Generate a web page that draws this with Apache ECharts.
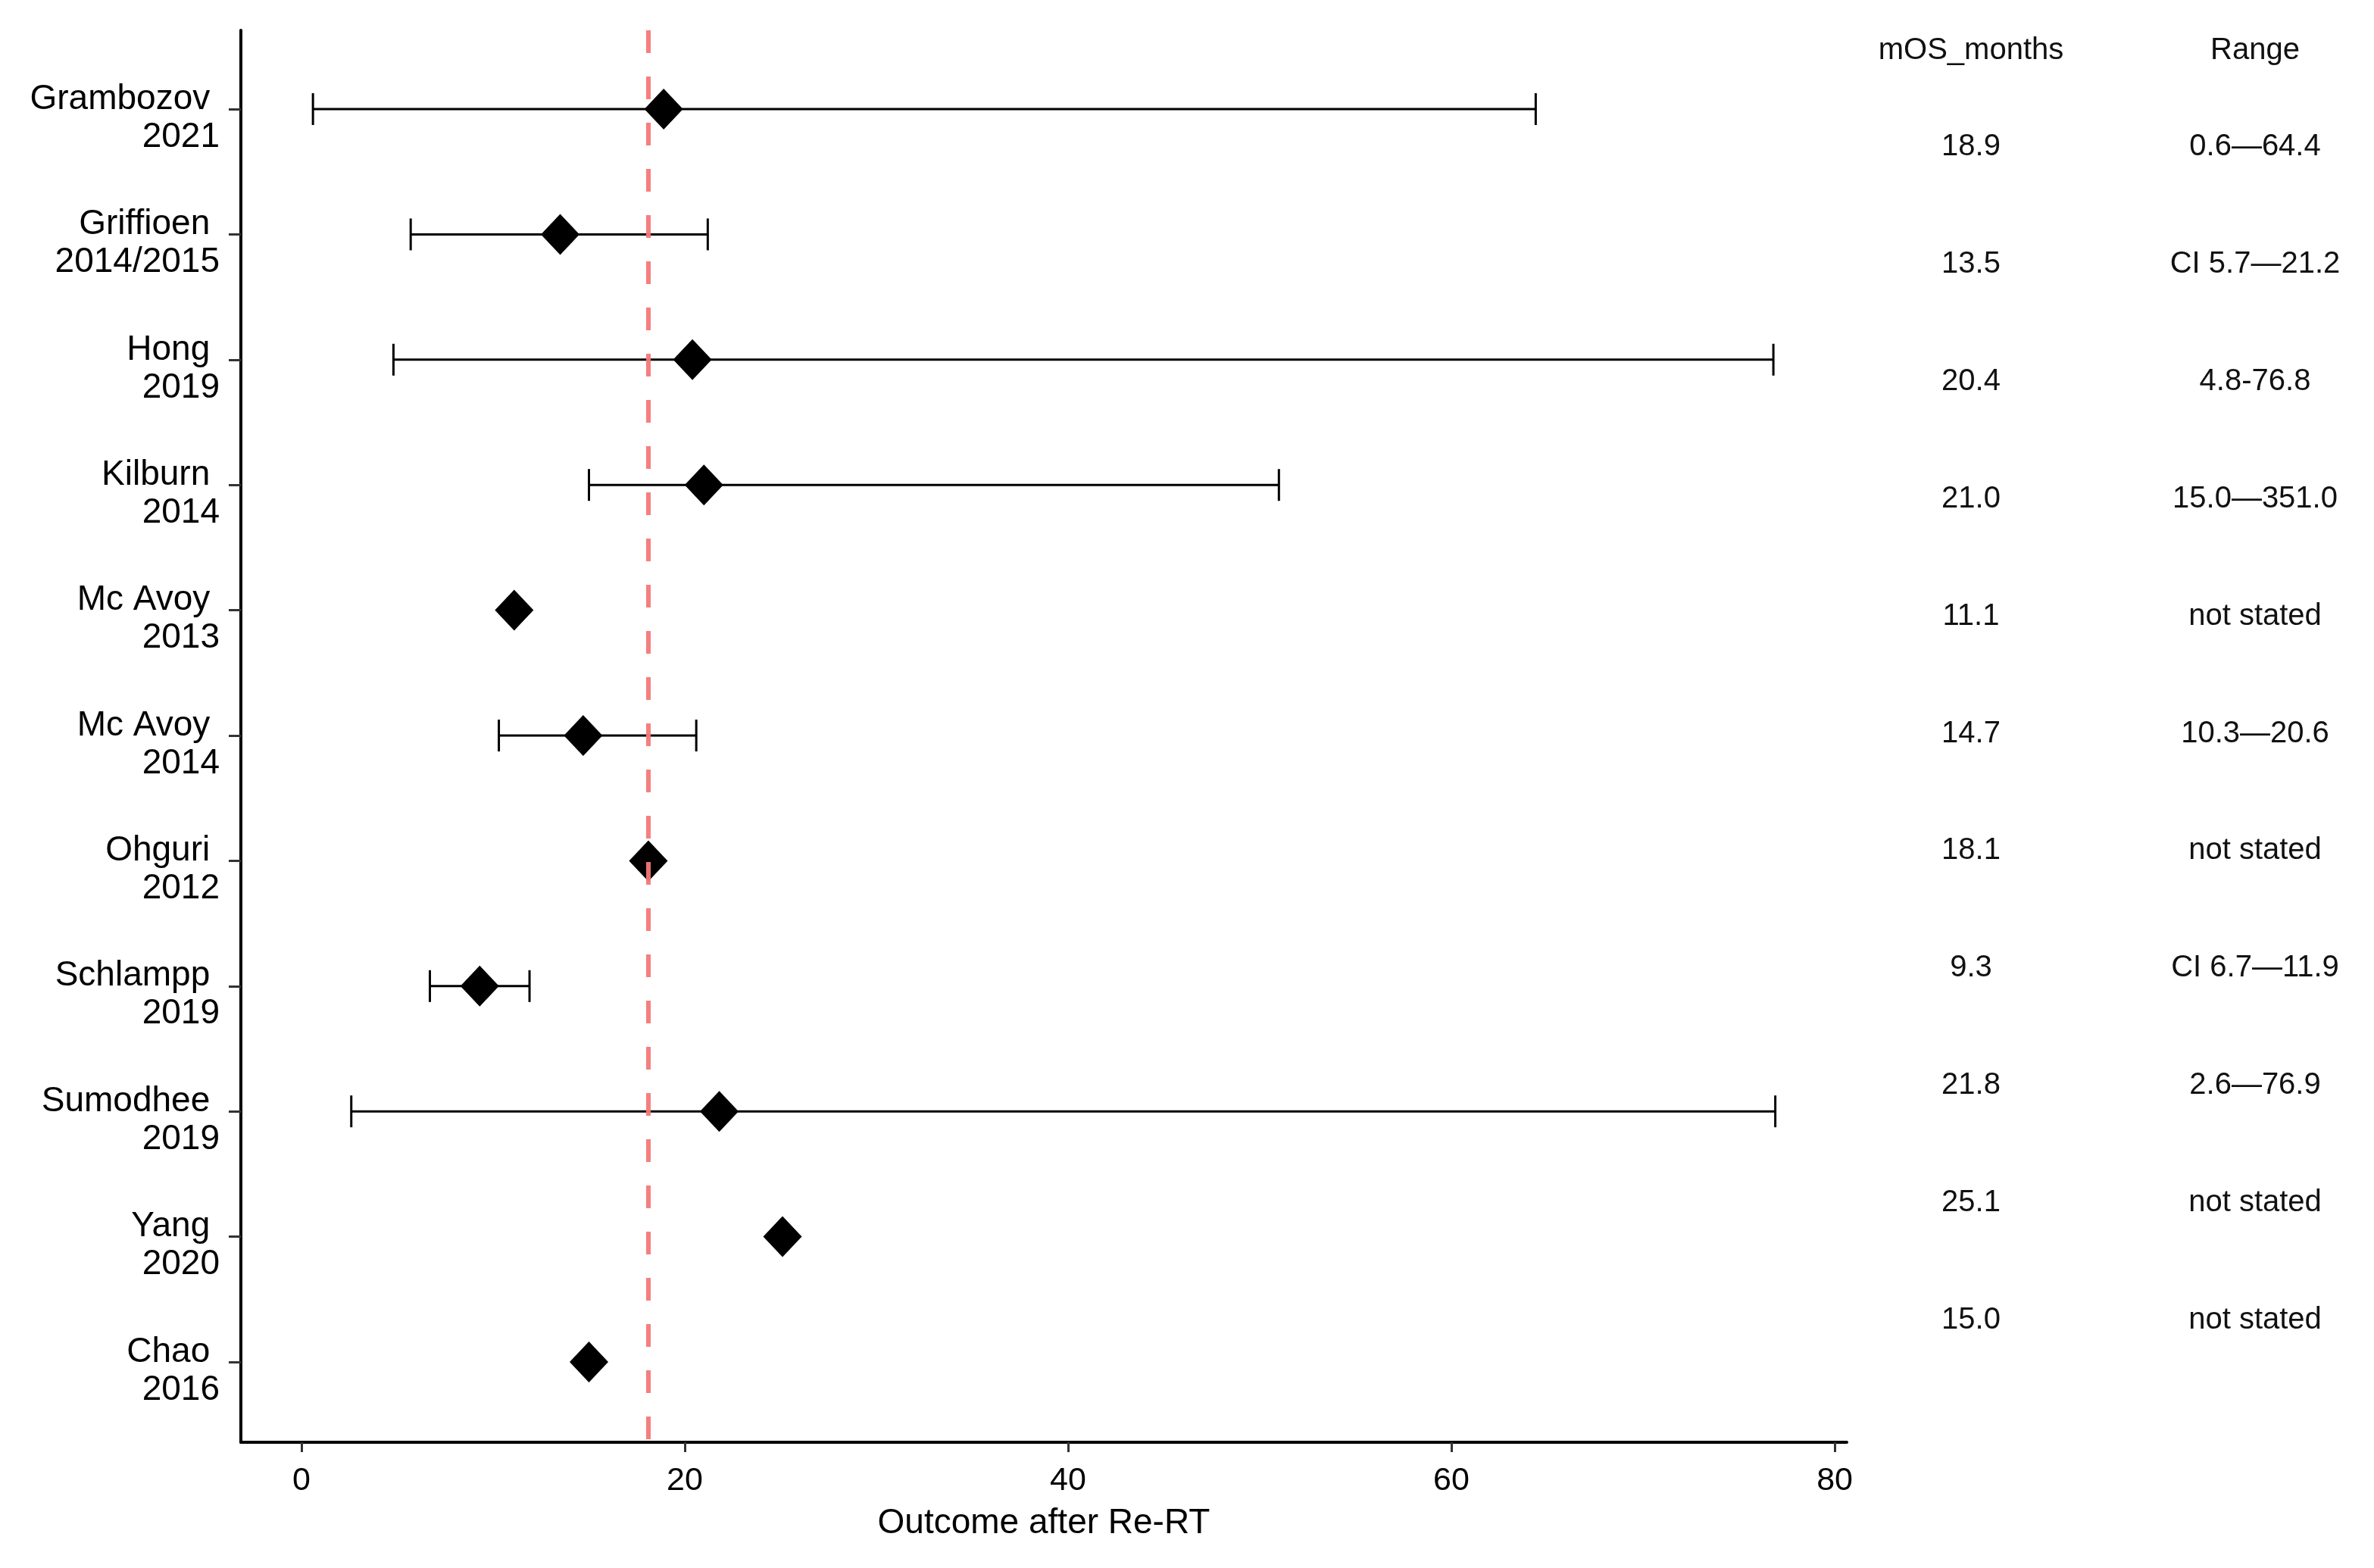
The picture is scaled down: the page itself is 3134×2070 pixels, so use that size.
<!DOCTYPE html>
<html>
<head>
<meta charset="utf-8">
<script src="https://cdn.jsdelivr.net/npm/echarts@6/dist/echarts.min.js"></script>
<style>
html,body{margin:0;padding:0;background:#fff;}
#chart{width:3134px;height:2070px;}
</style>
</head>
<body>
<div id="chart"></div>
<script>
// ---- data ----
const studies = ['Grambozov','Griffioen','Hong','Kilburn','Mc Avoy','Mc Avoy','Ohguri','Schlampp','Sumodhee','Yang','Chao'];
const years = ['2021','2014/2015','2019','2014','2013','2014','2012','2019','2019','2020','2016'];
const mos = [18.9,13.5,20.4,21.0,11.1,14.7,18.1,9.3,21.8,25.1,15.0];
const lower = [0.6,5.7,4.8,15.0,null,10.3,null,6.7,2.6,null,null];
const upper = [64.4,21.2,76.8,51.0,null,20.6,null,11.9,76.9,null,null];
const mosText = ['18.9','13.5','20.4','21.0','11.1','14.7','18.1','9.3','21.8','25.1','15.0'];
const rangeText = ['0.6\u201464.4','CI 5.7\u201421.2','4.8-76.8','15.0\u2014351.0','not stated','10.3\u201420.6','not stated','CI 6.7\u201411.9','2.6\u201476.9','not stated','not stated'];
const tableHeaders = ['mOS_months','Range'];
const xTicks = [0,20,40,60,80];
const refLine = 18.1;
const xAxisTitle = 'Outcome after Re-RT';

// ---- build ----
const FONT = '"Liberation Sans", Arial, sans-serif';
const rows = studies.map((_, i) => i + 1);
const diamondData = mos.map((v, i) => [v, rows[i]]);
const errData = [];
lower.forEach((lo, i) => { if (lo !== null && upper[i] !== null) errData.push([lo, upper[i], rows[i]]); });
const tableMos = rows.map(r => [0, r]);
const tableRange = rows.map(r => [1, r]);

const chart = echarts.init(document.getElementById('chart'), null, {renderer: 'canvas'});
const option = {
  backgroundColor: '#fff',
  animation: false,
  textStyle: {fontFamily: FONT},
  grid: [
    {left: 318, top: 40, right: 696, bottom: 166},
    {left: 2602, top: 116.5, right: 157, bottom: 249.5}
  ],
  xAxis: [
    {
      gridIndex: 0, type: 'value', min: -3.16, max: 80.63,
      axisLine: {show: true, onZero: false, lineStyle: {color: '#000', width: 4}},
      axisTick: {show: true, customValues: xTicks, length: 13, lineStyle: {color: '#333', width: 3}},
      axisLabel: {customValues: xTicks, fontSize: 43, color: '#000', margin: 30, fontFamily: FONT},
      splitLine: {show: false},
      name: xAxisTitle, nameLocation: 'middle', nameGap: 84,
      nameTextStyle: {fontSize: 46, color: '#000', fontFamily: FONT}
    },
    {
      gridIndex: 1, type: 'value', min: 0, max: 1, position: 'top',
      axisLine: {show: false}, axisTick: {show: false}, splitLine: {show: false},
      axisLabel: {customValues: [0, 1], formatter: v => tableHeaders[Math.round(v)], fontSize: 40, color: '#111', margin: 30, fontFamily: FONT}
    }
  ],
  yAxis: [
    {
      gridIndex: 0, type: 'value', inverse: true, min: 0.371, max: 11.641,
      axisLine: {show: true, onZero: false, lineStyle: {color: '#000', width: 4}},
      axisTick: {show: true, customValues: rows, length: 16, lineStyle: {color: '#333', width: 3}},
      axisLabel: {
        customValues: rows,
        formatter: v => { const i = Math.round(v) - 1; return '{s| }\n{n|' + studies[i] + ' }\n{n|' + years[i] + '}'; },
        color: '#000', margin: 28, align: 'right', fontFamily: FONT,
        rich: {
          s: {fontSize: 2, lineHeight: 24, fontFamily: FONT},
          n: {fontSize: 46, lineHeight: 50, color: '#000', fontFamily: FONT, align: 'right'}
        }
      },
      splitLine: {show: false}
    },
    {
      gridIndex: 1, type: 'value', inverse: true, min: 0.5, max: 11.5, show: false
    }
  ],
  series: [
    {
      type: 'custom', xAxisIndex: 0, yAxisIndex: 0, data: errData,
      encode: {x: [0, 1], y: 2}, z: 2,
      renderItem: (params, api) => {
        const a = api.coord([api.value(0), api.value(2)]);
        const b = api.coord([api.value(1), api.value(2)]);
        const h = 21;
        const st = {stroke: '#000', lineWidth: 3};
        return {type: 'group', children: [
          {type: 'line', shape: {x1: a[0], y1: a[1], x2: b[0], y2: b[1]}, style: st},
          {type: 'line', shape: {x1: a[0], y1: a[1] - h, x2: a[0], y2: a[1] + h}, style: st},
          {type: 'line', shape: {x1: b[0], y1: b[1] - h, x2: b[0], y2: b[1] + h}, style: st}
        ]};
      }
    },
    {
      type: 'scatter', xAxisIndex: 0, yAxisIndex: 0, data: diamondData,
      symbol: 'diamond', symbolSize: [51, 54], itemStyle: {color: '#000', opacity: 1}, z: 3,
      markLine: {
        silent: true, symbol: ['none', 'none'], label: {show: false}, z: 4,
        lineStyle: {color: '#F47878', width: 6, type: [30, 31], opacity: 0.95},
        data: [{xAxis: refLine}]
      }
    },
    {
      type: 'custom', xAxisIndex: 1, yAxisIndex: 1, data: tableMos, encode: {x: 0, y: 1},
      renderItem: (params, api) => {
        const p = api.coord([api.value(0), api.value(1)]);
        return {type: 'text', x: p[0], y: p[1], style: {text: mosText[params.dataIndex], fill: '#111', font: '40px ' + FONT, align: 'center', verticalAlign: 'middle'}};
      }
    },
    {
      type: 'custom', xAxisIndex: 1, yAxisIndex: 1, data: tableRange, encode: {x: 0, y: 1},
      renderItem: (params, api) => {
        const p = api.coord([api.value(0), api.value(1)]);
        return {type: 'text', x: p[0], y: p[1], style: {text: rangeText[params.dataIndex], fill: '#111', font: '40px ' + FONT, align: 'center', verticalAlign: 'middle'}};
      }
    }
  ]
};
chart.setOption(option);
</script>
</body>
</html>
